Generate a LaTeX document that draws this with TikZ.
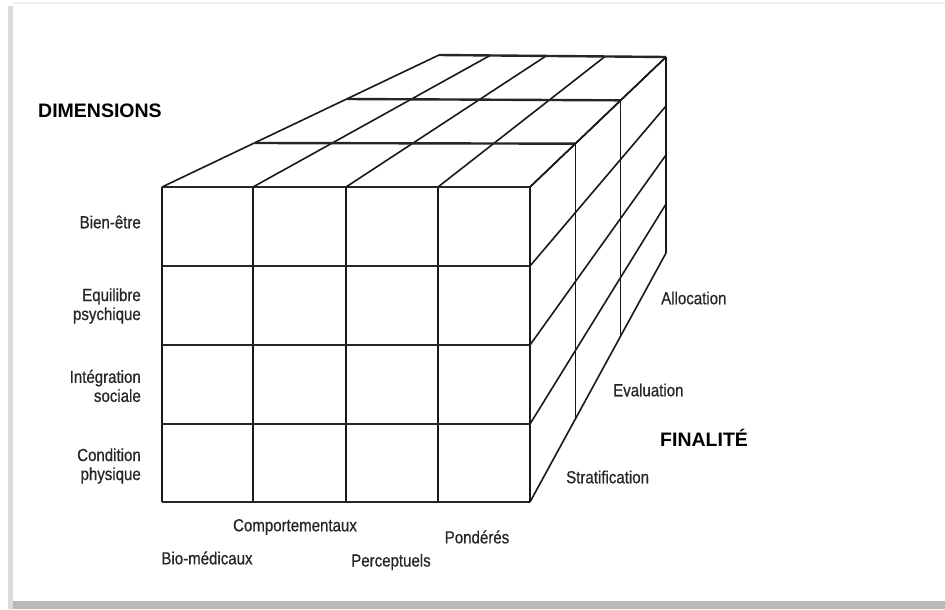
\documentclass[tikz,border=0pt]{standalone}
\usepackage{fontspec}
\setmainfont{Liberation Sans}
\newfontfamily\cond[FakeStretch=0.86,FakeBold=0.6]{Liberation Sans}
\begin{document}
\begin{tikzpicture}[x=1pt,y=-1pt,
  gridl/.style={line width=1.6pt, black!90},
  thickl/.style={line width=2.4pt, black!85},
  lab/.style={font=\cond\fontsize{17.5}{19}\selectfont, inner sep=0pt, text=black!85},
  ttl/.style={font=\bfseries\fontsize{19.5}{22}\selectfont, inner sep=0pt, text=black}]
\useasboundingbox (0,0) rectangle (945,610);
\fill[white] (0,0) rectangle (945,610);
% frame shadow
\fill[gray!55] (12,601) rectangle (945,609);
\fill[gray!28] (8,6) rectangle (13,609);
\draw[gray!12, line width=2pt] (13,3) -- (945,3);

% front face
\foreach \x in {162,253,346,438,530} \draw[gridl] (\x,187) -- (\x,502);
\foreach \y in {187,266,345,424,502} \draw[thickl] (162,\y) -- (530,\y);

% top face: receding column lines
\foreach \a/\b/\c in {162/439/55, 253/490/55.5, 346/546/56, 438/605/56.5, 530/666/57}
  \draw[gridl] (\a,187) -- (\b,\c);
% top face: layer lines
\foreach \k in {1,2,3}
  \draw[thickl] ({162+277*\k/3},{187-132*\k/3}) -- ({530+136*\k/3},{187-130*\k/3});

% right face: receding row lines
\foreach \a/\b in {187/57, 266/106, 345/155, 424/204, 502/253}
  \draw[gridl] (530,\a) -- (666,\b);
% right face: layer verticals
\foreach \k in {1,2,3}
  \draw[gridl] ({530+136*\k/3},{187-130*\k/3}) -- ({530+136*\k/3},{502-249*\k/3});

% titles
\node[ttl, anchor=west] (dim) at (38,111) {DIMENSIONS};
\node[ttl, anchor=west] (fin) at (660,438) {FINALITÉ};

% left labels
\node[lab, anchor=east, align=right] (l1) at (141,222) {Bien-être};
\node[lab, anchor=east, align=right] (l2) at (141,306) {Equilibre\\psychique};
\node[lab, anchor=east, align=right] (l3) at (141,386) {Intégration\\sociale};
\node[lab, anchor=east, align=right] (l4) at (141,466) {Condition\\physique};

% bottom labels
\node[lab] (b1) at (295,527) {Comportementaux};
\node[lab] (b2) at (207,558) {Bio-médicaux};
\node[lab] (b3) at (391,562) {Perceptuels};
\node[lab] (b4) at (477,537) {Pondérés};

% right labels
\node[lab, anchor=west] (r1) at (661,298) {Allocation};
\node[lab, anchor=west] (r2) at (613,390) {Evaluation};
\node[lab, anchor=west] (r3) at (566,477) {Stratification};
\end{tikzpicture}
\end{document}
